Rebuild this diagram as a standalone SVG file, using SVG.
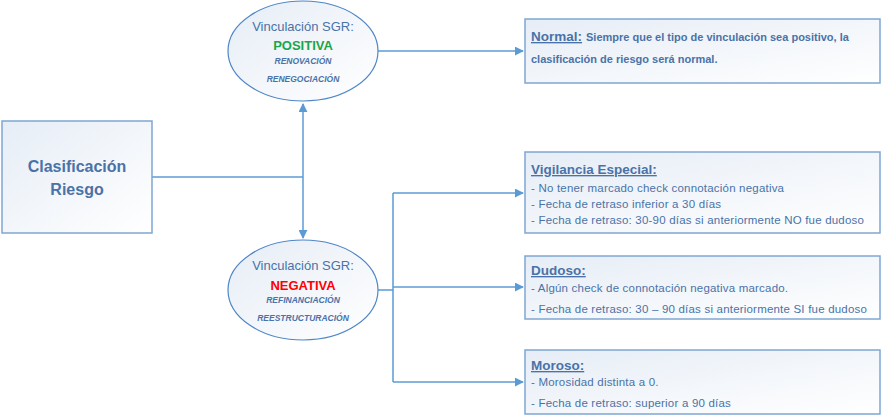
<svg xmlns="http://www.w3.org/2000/svg" width="882" height="418" viewBox="0 0 882 418">
<style>
.box{stroke:#7fa6d2;stroke-width:1.5}
.ell{stroke:#4f86c6;stroke-width:1.2}
.c{stroke:#5b9bd5;stroke-width:1.5;fill:none}
text{font-family:"Liberation Sans",Arial,sans-serif;fill:#4a72a8}
.t{font-size:11.5px;letter-spacing:0.2px}
.h{font-size:13.5px;font-weight:bold;text-decoration:underline}
.it{font-size:8.5px;font-style:italic;font-weight:bold}
</style>
<defs>
<linearGradient id="g" x1="0" y1="0" x2="1" y2="1"><stop offset="0" stop-color="#e6edf6"/><stop offset="1" stop-color="#ffffff"/></linearGradient>
<marker id="a" viewBox="0 0 10 10" refX="9" refY="5" markerWidth="6" markerHeight="6" orient="auto"><path d="M0,0L10,5L0,10z" fill="#5b9bd5"/></marker>
</defs>
<g id="connectors">
<path class="c" d="M152,177H303"/>
<path class="c" d="M303,177V104" marker-end="url(#a)"/>
<path class="c" d="M303,177V238" marker-end="url(#a)"/>
<path class="c" d="M378,51H523" marker-end="url(#a)"/>
<path class="c" d="M378,290H393M393,193V382"/>
<path class="c" d="M393,193H523" marker-end="url(#a)"/>
<path class="c" d="M393,287H523" marker-end="url(#a)"/>
<path class="c" d="M393,382H523" marker-end="url(#a)"/>
</g>
<g id="clasificacion">
<rect class="box" x="2" y="121" width="150" height="112" fill="url(#g)"/>
<text x="77" y="172" text-anchor="middle" font-size="16" font-weight="bold">Clasificación</text>
<text x="77" y="195" text-anchor="middle" font-size="16" font-weight="bold">Riesgo</text>
</g>
<g id="positiva">
<ellipse class="ell" cx="303" cy="51" rx="75" ry="50" fill="url(#g)"/>
<text x="303" y="31" text-anchor="middle" font-size="13">Vinculación SGR:</text>
<text x="303" y="50" text-anchor="middle" font-size="13" font-weight="bold" style="fill:#1aa64a">POSITIVA</text>
<text class="it" x="303" y="64" text-anchor="middle">RENOVACIÓN</text>
<text class="it" x="303" y="82" text-anchor="middle">RENEGOCIACIÓN</text>
</g>
<g id="negativa">
<ellipse class="ell" cx="303" cy="290" rx="75" ry="50" fill="url(#g)"/>
<text x="303" y="270" text-anchor="middle" font-size="13">Vinculación SGR:</text>
<text x="303" y="290" text-anchor="middle" font-size="13" font-weight="bold" style="fill:#ff0000">NEGATIVA</text>
<text class="it" x="303" y="303" text-anchor="middle">REFINANCIACIÓN</text>
<text class="it" x="303" y="321" text-anchor="middle">REESTRUCTURACIÓN</text>
</g>
<g id="normal">
<rect class="box" x="525" y="19" width="355" height="64" fill="url(#g)"/>
<text x="531" y="41"><tspan class="h">Normal:</tspan><tspan font-size="11px" font-weight="bold" dx="4">Siempre que el tipo de vinculación sea positivo, la</tspan></text>
<text x="531" y="63" font-size="11px" font-weight="bold">clasificación de riesgo será normal.</text>
</g>
<g id="vigilancia">
<rect class="box" x="525" y="152" width="355" height="81" fill="url(#g)"/>
<text class="h" x="531" y="174">Vigilancia Especial:</text>
<text class="t" x="531" y="192">- No tener marcado check connotación negativa</text>
<text class="t" x="531" y="208">- Fecha de retraso inferior a 30 días</text>
<text class="t" x="531" y="224">- Fecha de retraso: 30-90 días si anteriormente NO fue dudoso</text>
</g>
<g id="dudoso">
<rect class="box" x="525" y="256" width="355" height="63" fill="url(#g)"/>
<text class="h" x="531" y="275">Dudoso:</text>
<text class="t" x="531" y="292">- Algún check de connotación negativa marcado.</text>
<text class="t" x="531" y="313">- Fecha de retraso: 30 – 90 días si anteriormente SI fue dudoso</text>
</g>
<g id="moroso">
<rect class="box" x="525" y="350" width="355" height="64" fill="url(#g)"/>
<text class="h" x="531" y="370">Moroso:</text>
<text class="t" x="531" y="386">- Morosidad distinta a 0.</text>
<text class="t" x="531" y="407">- Fecha de retraso: superior a 90 días</text>
</g>
</svg>
